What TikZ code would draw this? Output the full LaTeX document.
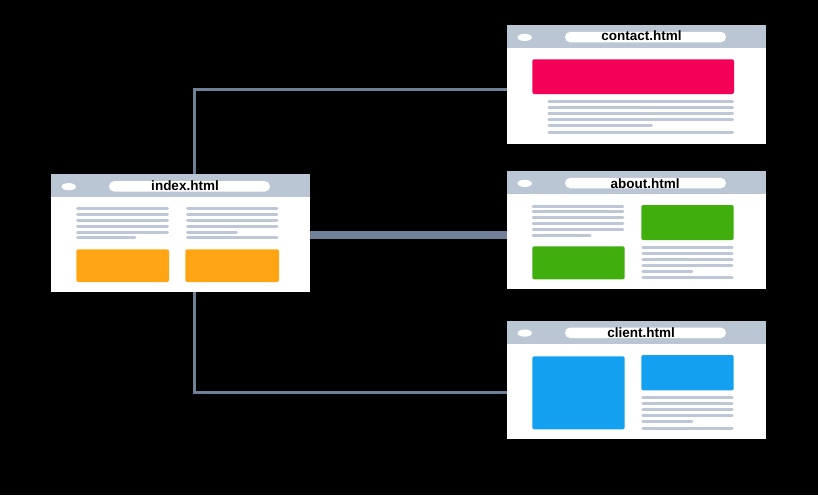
\documentclass[tikz,border=0pt]{standalone}
\usepackage{fontspec}
\setmainfont{Liberation Sans}
\definecolor{hdrc}{RGB}{187,198,213}
\definecolor{linec}{RGB}{189,199,213}
\definecolor{connc}{RGB}{111,128,152}
\definecolor{orangec}{RGB}{255,165,20}
\definecolor{redc}{RGB}{245,0,87}
\definecolor{greenc}{RGB}{64,175,14}
\definecolor{bluec}{RGB}{20,160,240}
\tikzset{
  win/.style={fill=white, draw=none, inner sep=0pt, outer sep=0pt, rectangle},
  hdr/.style={fill=hdrc},
  gl/.style={draw=linec, line width=3pt, line cap=round},
  blockbox/.style={rounded corners=2pt},
  conn/.style={draw=connc, line width=3.3pt},
  connthick/.style={draw=connc, line width=8pt},
  titletext/.style={anchor=base, inner sep=0pt, font=\bfseries\fontsize{13.5}{16}\selectfont, text=black}
}
% #1 name, #2 x, #3 y (top), #4 height, #5 title, #6 title centre x, #7 baseline y
\newcommand\browserwin[7]{%
  \node[win, minimum width=259pt, minimum height=#4pt, anchor=north west] (#1) at (#2,#3) {};
  \fill[hdr] (#2,#3) rectangle (#2+259,#3+23);
  \fill[white] (#2+17.7,#3+12.4) ellipse [x radius=7.2pt, y radius=3.6pt];
  \fill[white] (#2+58,#3+6.8) [rounded corners=5.2pt] rectangle (#2+219,#3+17.3);
  \node[titletext] (#1-title) at (#6,#7) {#5};
}
\begin{document}
\begin{tikzpicture}[x=1pt,y=-1pt]
\useasboundingbox[fill=black] (0,0) rectangle (818,495);

% ---------- windows ----------
\browserwin{index}{51}{174.3}{117.4}{index.html}{185}{190}
\browserwin{contact}{507}{25}{119}{contact.html}{641.5}{40.8}
\browserwin{about}{507}{171}{118}{about.html}{645}{188.2}
\browserwin{client}{507}{320.7}{118.6}{client.html}{641.2}{337.7}

% ---------- index content ----------
\foreach \yy in {208.7,214.5,220.3,226.2,232} \draw[gl] (77.5,\yy) -- (167.5,\yy);
\draw[gl] (77.5,237.8) -- (134.8,237.8);
\foreach \yy in {208.7,214.5,220.3,226.2,237.8} \draw[gl] (187.5,\yy) -- (276.8,\yy);
\draw[gl] (187.5,232) -- (236.5,232);
\fill[orangec, blockbox] (76.3,249.3) rectangle (169,282);
\fill[orangec, blockbox] (185.3,249.3) rectangle (279,282);

% ---------- contact content ----------
\fill[redc, blockbox] (532.3,59.3) rectangle (734,94);
\foreach \yy in {101.3,107.7,113.5,119.3,132.2} \draw[gl] (548.8,\yy) -- (732.5,\yy);
\draw[gl] (548.8,125.8) -- (651.5,125.8);

% ---------- about content ----------
\foreach \yy in {206,211.7,217.3,223.2,229} \draw[gl] (533.2,\yy) -- (622.8,\yy);
\draw[gl] (533.2,235) -- (590.2,235);
\fill[greenc, blockbox] (641.3,205) rectangle (733.7,240);
\fill[greenc, blockbox] (532.3,246.3) rectangle (624.7,279.3);
\foreach \yy in {247.3,253.5,259.3,265,277.7} \draw[gl] (642.8,\yy) -- (732.2,\yy);
\draw[gl] (642.8,271.3) -- (691.8,271.3);

% ---------- client content ----------
\fill[bluec, blockbox] (532.3,356.3) rectangle (624.7,429.3);
\fill[bluec, blockbox] (641.3,355) rectangle (733.7,390.3);
\foreach \yy in {397.7,403.7,409.3,415,428} \draw[gl] (642.8,\yy) -- (732.2,\yy);
\draw[gl] (642.8,421.5) -- (691.8,421.5);

% ---------- connectors ----------
\coordinate (tc) at (194.3,89.3);
\coordinate (mc) at (194.3,235);
\coordinate (bc) at (194.3,392.7);
\draw[conn] (index.north -| tc) -- (tc) -- (contact.west |- tc);
\draw[connthick] (index.east |- mc) -- (about.west |- mc);
\draw[conn] (index.south -| bc) -- (bc) -- (client.west |- bc);
\end{tikzpicture}
\end{document}
